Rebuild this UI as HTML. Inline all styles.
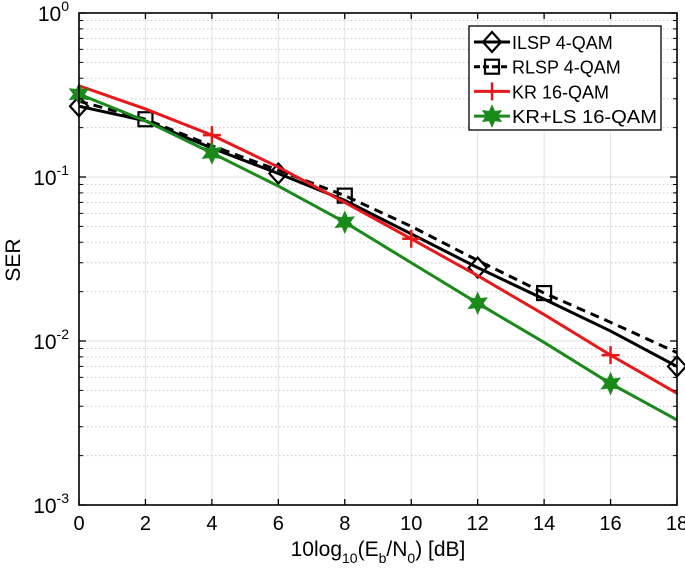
<!DOCTYPE html>
<html><head><meta charset="utf-8"><style>
body{margin:0;background:#fff}
svg{display:block;font-family:"Liberation Sans",Arial,sans-serif}
</style></head><body>
<svg id="chart" width="685" height="582" viewBox="0 0 685 582">
<g id="grid"></g>
<g id="series"></g>
<g id="axes"></g>
<text x="20" y="260" font-size="21" text-anchor="middle" transform="rotate(-90 20 260)">SER</text>
<text x="378" y="556" font-size="21" text-anchor="middle">10log<tspan font-size="14" dy="7">10</tspan><tspan dy="-7">(E</tspan><tspan font-size="14" dy="7">b</tspan><tspan dy="-7">/N</tspan><tspan font-size="14" dy="7">0</tspan><tspan dy="-7">) [dB]</tspan></text>
<g id="legend"></g>
</svg>
<script>
const xValues=[0,2,4,6,8,10,12,14,16,18];
const ilsp=[0.27,0.22,0.15,0.105,0.072,0.045,0.028,0.018,0.0115,0.007];
const rlsp=[0.29,0.225,0.155,0.11,0.077,0.05,0.031,0.0196,0.013,0.0085];
const kr=[0.36,0.26,0.18,0.115,0.07,0.042,0.025,0.0145,0.0082,0.0048];
const krls=[0.32,0.22,0.14,0.088,0.053,0.03,0.017,0.0098,0.0055,0.0033];
const xTicks=[0,2,4,6,8,10,12,14,16,18];
const yDecades=[0,-1,-2,-3];
const legendLabels=["ILSP 4-QAM","RLSP 4-QAM","KR 16-QAM","KR+LS 16-QAM"];

const L=79,R=677,T=13,B=505;
const NS="http://www.w3.org/2000/svg";
function X(v){return L+(v-0)/(18-0)*(R-L);}
function Y(v){return T+(0-Math.log10(v))/3*(B-T);}
function mk(tag,attrs,parent){const e=document.createElementNS(NS,tag);for(const k in attrs)e.setAttribute(k,attrs[k]);parent.appendChild(e);return e;}
const grid=document.getElementById('grid'),axes=document.getElementById('axes'),ser=document.getElementById('series'),leg=document.getElementById('legend');

xTicks.forEach(t=>{
 const g=mk('line',{x1:X(t),x2:X(t),y1:T,y2:B,stroke:'#e2e2e2','stroke-width':1},grid);
 
 
 mk('line',{x1:X(t),x2:X(t),y1:B,y2:B-6,stroke:'#000','stroke-width':1.3},axes);
 mk('line',{x1:X(t),x2:X(t),y1:T,y2:T+6,stroke:'#000','stroke-width':1.3},axes);
 const tx=mk('text',{x:X(t),y:B+25,'font-size':20,'text-anchor':'middle'},axes);
 tx.textContent=t;
 
 
});
for(let d=-3;d<0;d++){for(let m=2;m<=9;m++){const v=m*Math.pow(10,d);
 const g=mk('line',{x1:L,x2:R,y1:Y(v),y2:Y(v),stroke:'#c8c8c8','stroke-width':1,'stroke-dasharray':'1.5 2.5'},grid);
 
 
 mk('line',{x1:L,x2:L+4,y1:Y(v),y2:Y(v),stroke:'#000','stroke-width':1},axes);
 mk('line',{x1:R,x2:R-4,y1:Y(v),y2:Y(v),stroke:'#000','stroke-width':1},axes);
}}
yDecades.forEach(d=>{const v=Math.pow(10,d);
 const g=mk('line',{x1:L,x2:R,y1:Y(v),y2:Y(v),stroke:'#e2e2e2','stroke-width':1},grid);
 
 
 mk('line',{x1:L,x2:L+7,y1:Y(v),y2:Y(v),stroke:'#000','stroke-width':1.3},axes);
 mk('line',{x1:R,x2:R-7,y1:Y(v),y2:Y(v),stroke:'#000','stroke-width':1.3},axes);
 const tx=mk('text',{x:L-10,y:Y(v)+8,'font-size':21,'text-anchor':'end'},axes);
 tx.innerHTML='10<tspan font-size="14" dy="-10">'+d+'</tspan>';
 
 
});
const fr=mk('rect',{x:L,y:T,width:R-L,height:B-T,fill:'none',stroke:'#000','stroke-width':1.6},axes);



function marker(type,cx,cy,color,parent){
 if(type==='diamond')return mk('path',{d:`M${cx} ${cy-10}L${cx+9} ${cy}L${cx} ${cy+10}L${cx-9} ${cy}Z`,fill:'none',stroke:color,'stroke-width':2.2},parent);
 if(type==='square')return mk('rect',{x:cx-7,y:cy-7,width:14,height:14,fill:'none',stroke:color,'stroke-width':2.2},parent);
 if(type==='plus')return mk('path',{d:`M${cx-9} ${cy}H${cx+9}M${cx} ${cy-9}V${cy+9}`,stroke:color,'stroke-width':2.5},parent);
 let p='';for(let i=0;i<12;i++){const r=i%2?5:10,a=Math.PI/6*i-Math.PI/2;p+=(i?'L':'M')+(cx+r*Math.cos(a)).toFixed(1)+' '+(cy+r*Math.sin(a)).toFixed(1);}
 return mk('path',{d:p+'Z',fill:color,stroke:color,'stroke-width':1.5},parent);
}
const specs=[
 {data:ilsp,color:'#000',dash:'',mk:'diamond',idx:[0,3,6,9],name:'ilsp'},
 {data:rlsp,color:'#000',dash:'9 6',mk:'square',idx:[1,4,7],name:'rlsp'},
 {data:kr,color:'#e8191a',dash:'',mk:'plus',idx:[2,5,8],name:'kr'},
 {data:krls,color:'#1a8a1a',dash:'',mk:'star',idx:[0,2,4,6,8],name:'kr-ls'}];
specs.forEach(s=>{
 const g=mk('g',{},ser);
 
 
 const pl=mk('polyline',{points:s.data.map((v,i)=>X(xValues[i])+','+Y(v)).join(' '),fill:'none',stroke:s.color,'stroke-width':3,'stroke-dasharray':s.dash},g);
 
 
 s.idx.forEach(i=>{const m=marker(s.mk,X(xValues[i]),Y(s.data[i]),s.color,g);
  
  });
});
const lb=mk('rect',{x:469,y:26,width:192,height:104,fill:'#fff',stroke:'#000','stroke-width':1.3},leg);


specs.forEach((s,i)=>{const y=42+i*24.7;
 const g=mk('g',{},leg);
 
 
 mk('line',{x1:474,x2:510,y1:y,y2:y,stroke:s.color,'stroke-width':3,'stroke-dasharray':s.dash?'6 3':''},g);
 marker(s.mk,492,y,s.color,g);
 const t=mk('text',{x:512,y:y+7,'font-size':18,textLength:145,lengthAdjust:'spacingAndGlyphs'},g);t.textContent=legendLabels[i];
 if(i<3)t.removeAttribute('textLength');
});
</script>
</body></html>
